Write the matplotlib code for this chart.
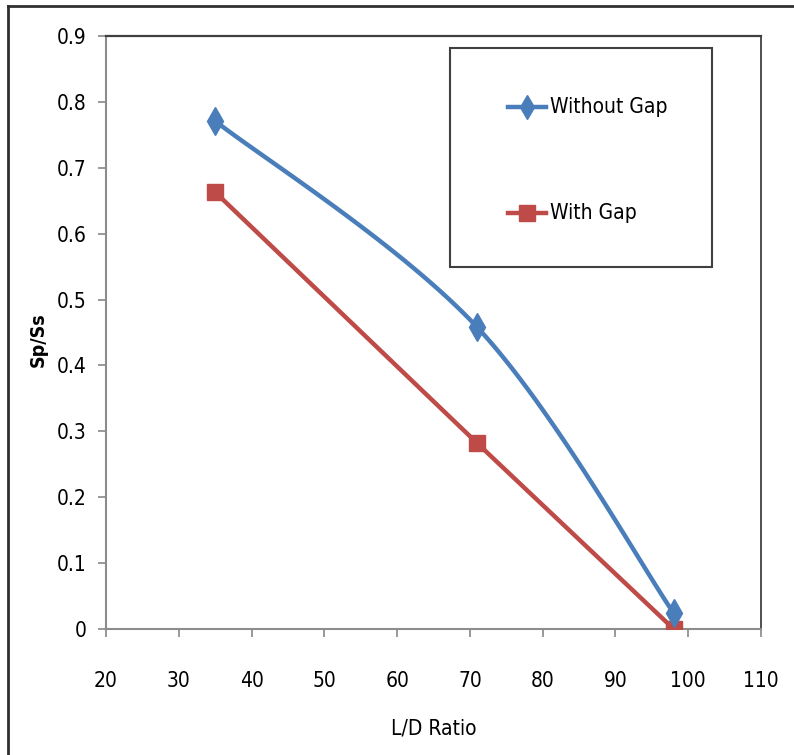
import numpy as np
import matplotlib
matplotlib.use('Agg')
import matplotlib.pyplot as plt
from matplotlib import font_manager
from matplotlib.patches import Rectangle

ld_ratio = [35, 71, 98]
without_gap = [0.771, 0.458, 0.024]
with_gap = [0.663, 0.282, 0.0]

x_ticks = [20, 30, 40, 50, 60, 70, 80, 90, 100, 110]
y_ticks = [0, 0.1, 0.2, 0.3, 0.4, 0.5, 0.6, 0.7, 0.8, 0.9]

BLUE = '#4A7EBB'
RED = '#BE4B48'

# look for a narrow font (the original uses Calibri-like condensed text)
narrow = None
for f in font_manager.fontManager.ttflist:
    st = str(f.stretch).lower()
    if ('narrow' in f.name.lower() or 'condensed' in f.name.lower() or st in ('condensed', 'semi-condensed', 'extra-condensed')) \
            and f.weight in (400, 'normal', 'regular') and f.style == 'normal':
        narrow = f
        break
if narrow is not None:
    plt.rcParams['font.family'] = [narrow.name, 'DejaVu Sans']
    plt.rcParams['font.stretch'] = narrow.stretch
else:
    plt.rcParams['font.family'] = ['Liberation Sans', 'DejaVu Sans']
FONT_SIZE = 15 if narrow is not None else 14


def smooth(xs, ys, n=60):
    # excel-like smoothed line: catmull-rom segments as bezier curves
    pts = np.column_stack([xs, ys]).astype(float)
    ext = np.vstack([pts[0], pts, pts[-1]])
    out = []
    t = np.linspace(0, 1, n)[:, None]
    for i in range(1, len(ext) - 2):
        p0, p1, p2, p3 = ext[i - 1], ext[i], ext[i + 1], ext[i + 2]
        c1 = p1 + (p2 - p0) / 6
        c2 = p2 - (p3 - p1) / 6
        seg = ((1 - t) ** 3) * p1 + 3 * ((1 - t) ** 2) * t * c1 + 3 * (1 - t) * t ** 2 * c2 + t ** 3 * p2
        out.append(seg if i == 1 else seg[1:])
    out = np.vstack(out)
    return out[:, 0], out[:, 1]


fig = plt.figure(figsize=(7.94, 7.55), dpi=100)
ax = fig.add_axes([0.1335, 0.1669, 0.825, 0.7854])

sx, sy = smooth(ld_ratio, without_gap)
ax.plot(sx, sy, color=BLUE, lw=3.2, solid_capstyle='round', zorder=3)
ax.plot(ld_ratio, without_gap, ls='none', marker='d', ms=14, color=BLUE, zorder=4)
ax.plot(ld_ratio, with_gap, color=RED, lw=3.2, marker='s', ms=11, zorder=3)

ax.set_xlim(20, 110)
ax.set_ylim(0, 0.9)
ax.set_xticks(x_ticks)
ax.set_yticks(y_ticks)
ax.set_xticklabels([str(v) for v in x_ticks])
ax.set_yticklabels(['0'] + ['%.1f' % v for v in y_ticks[1:]])
ax.tick_params(direction='out', length=6, width=1.2, color='#888888',
               labelsize=FONT_SIZE, pad=8)
ax.tick_params(axis='x', pad=24)

for side in ['left', 'bottom']:
    ax.spines[side].set_color('#8c8c8c')
    ax.spines[side].set_linewidth(1.5)
ax.spines['top'].set_color('#404040')
ax.spines['top'].set_linewidth(1.6)
ax.spines['right'].set_color('#505050')
ax.spines['right'].set_linewidth(1.4)

ax.set_xlabel('L/D Ratio', fontsize=FONT_SIZE, labelpad=20)
fig.text(0.048, 0.55, 'Sp/Ss', rotation=90, fontsize=14, fontweight='bold',
         ha='center', va='center', family='DejaVu Sans')

# legend drawn as a box in figure coords
fig.patches.append(Rectangle((450 / 794, 1 - 267 / 755), 262 / 794, 219 / 755,
                             transform=fig.transFigure, fill=False,
                             edgecolor='#404040', lw=1.5))
leg_items = [('Without Gap', BLUE, 'd', 12, 107), ('With Gap', RED, 's', 11, 213)]
for label, col, mk, ms, ypix in leg_items:
    yf = 1 - ypix / 755
    fig.add_artist(plt.Line2D([508 / 794, 546 / 794], [yf, yf], transform=fig.transFigure,
                              color=col, lw=3.2, marker=None))
    fig.add_artist(plt.Line2D([527 / 794], [yf], transform=fig.transFigure,
                              color=col, marker=mk, ms=ms, ls='none'))
    fig.text(550 / 794, yf, label, fontsize=FONT_SIZE, va='center', ha='left')

# outer frame
fig.add_artist(plt.Line2D([8 / 794, 8 / 794], [0, 1 - 6 / 755], transform=fig.transFigure,
                          color='#303030', lw=2))
fig.add_artist(plt.Line2D([8 / 794, 1], [1 - 6 / 755, 1 - 6 / 755], transform=fig.transFigure,
                          color='#303030', lw=2))

fig.savefig('out.png', dpi=100)
